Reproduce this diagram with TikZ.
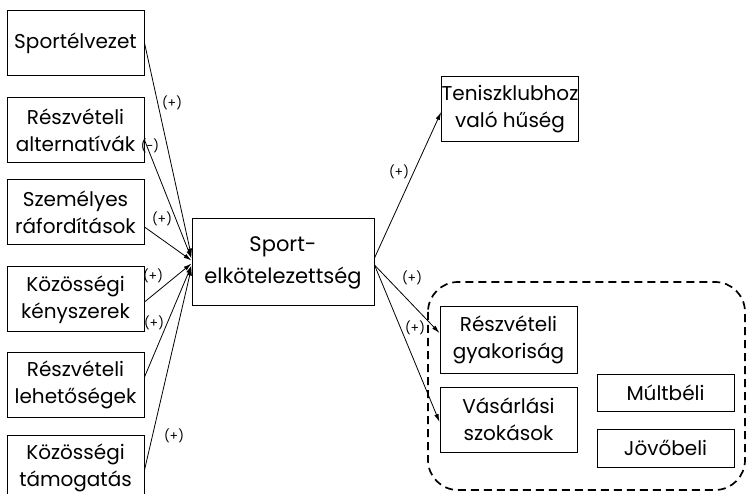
\documentclass[tikz,border=0pt]{standalone}
\usepackage{fontspec}
\setmainfont{Poppins}
\usetikzlibrary{arrows.meta}

\begin{document}
\begin{tikzpicture}[x=1pt, y=-1pt,
  box/.style={draw, line width=1pt, minimum width=137pt, minimum height=65pt,
    align=center, inner sep=0pt, font=\fontsize{20}{27}\selectfont},
  centralbox/.style={box, minimum width=182pt, minimum height=87pt,
    font=\fontsize{21}{32}\selectfont},
  smallbox/.style={box, minimum height=37pt},
  link/.style={line width=0.8pt, -{Latex[length=8pt, width=4.5pt]}},
  sign/.style={inner sep=0pt, font=\fontsize{12.5}{14}\selectfont},
  group/.style={line width=1.7pt, dash pattern=on 8pt off 5pt, rounded corners=30pt}
]
\useasboundingbox (0,0) rectangle (747,494);
\clip (0,0) rectangle (747,494);

% antecedents
\node[box] (s1) at (75.5,43)    {Sportélvezet};
\node[box] (s2) at (75.5,130.5) {Részvételi\\alternatívák};
\node[box] (s3) at (75.5,212.5) {Személyes\\ráfordítások};
\node[box] (s4) at (75.5,299.5) {Közösségi\\kényszerek};
\node[box] (s5) at (75.5,384.5) {Részvételi\\lehetőségek};
\node[box] (s6) at (75.5,467.5) {Közösségi\\támogatás};

% commitment
\node[centralbox] (c) at (283,262.5) {Sport-\\elkötelezettség};

% consequences
\node[box, minimum width=136pt] (t) at (510,109.5) {Teniszklubhoz\\való hűség};
\draw[group] (428,282) rectangle (745,490);
\node[box, minimum height=66pt] (r) at (508.5,340) {Részvételi\\gyakoriság};
\node[box] (v) at (508.5,419.5) {Vásárlási\\szokások};
\node[smallbox] (m) at (665.5,392.5) {Múltbéli};
\node[smallbox, minimum height=38pt] (j) at (665.5,448) {Jövőbeli};

% paths into commitment
\draw[link] (s1.east) -- ([yshift=6pt]c.west);
\draw[link] ([yshift=-9.5pt]s2.east) -- ([yshift=4pt]c.west);
\draw[link] ([yshift=-14.5pt]s3.east) -- ([yshift=2pt]c.west);
\draw[link] ([yshift=-2.5pt]s4.east) -- ([yshift=-1pt]c.west);
\draw[link] ([yshift=7.5pt]s5.east) -- ([yshift=-3pt]c.west);
\draw[link] ([yshift=-2.5pt]s6.east) -- ([yshift=-5pt]c.west);

% paths out of commitment
\draw[link] ([yshift=4.5pt]c.east) -- ([yshift=-2.5pt]t.west);
\draw[link] ([yshift=-2.5pt]c.east) -- ([yshift=7pt]r.west);
\draw[link] ([yshift=-2.5pt]c.east) -- ([yshift=-2.5pt]v.west);

% signs
\node[sign] (p1) at (172,103) {(+)};
\node[sign] (p2) at (150,146) {(-)};
\node[sign] (p3) at (162,219) {(+)};
\node[sign] (p4) at (153,276) {(+)};
\node[sign] (p5) at (154,323) {(+)};
\node[sign] (p6) at (174,436) {(+)};
\node[sign] (p7) at (399,172) {(+)};
\node[sign] (p8) at (412,278) {(+)};
\node[sign] (p9) at (415,328) {(+)};
\end{tikzpicture}
\end{document}
